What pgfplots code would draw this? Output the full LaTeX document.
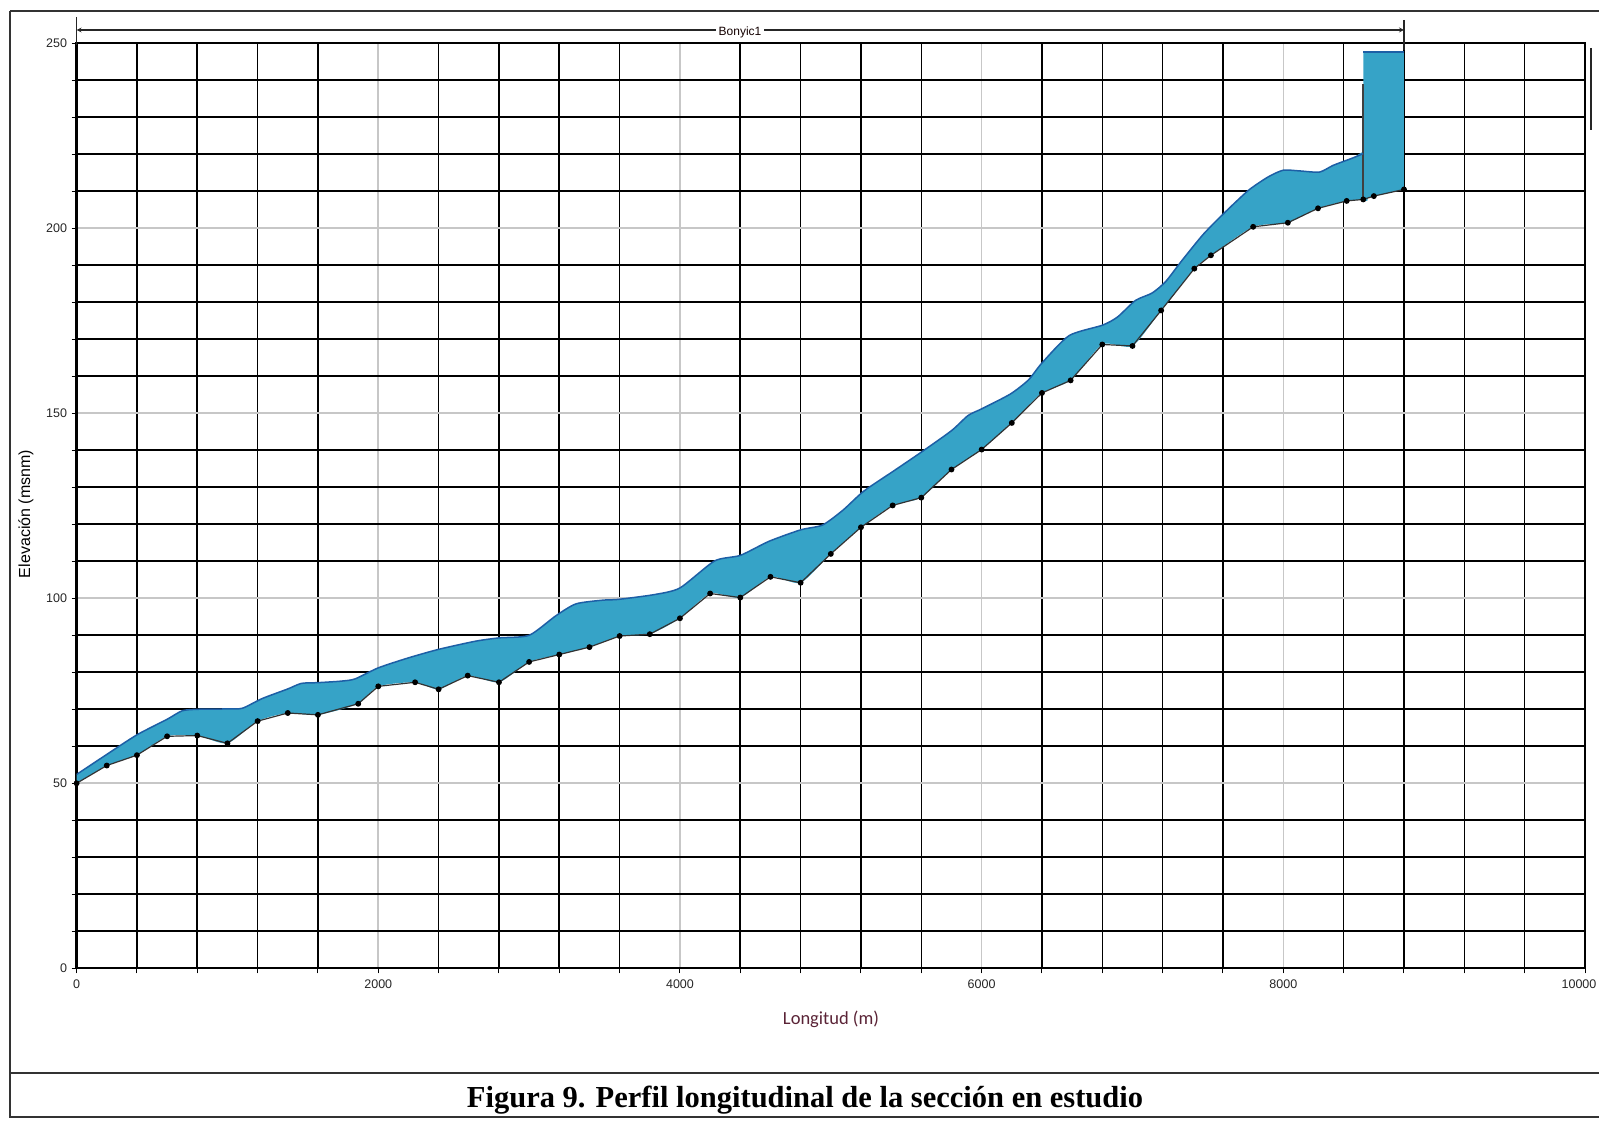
\documentclass[border=0pt]{standalone}
\usepackage{pgfplots}
\pgfplotsset{compat=1.18}
\usepackage{fontspec}
\setmainfont{Liberation Sans}
\newfontfamily\capfont{Liberation Serif}
\newfontfamily\labfont{Carlito}
\definecolor{waterblue}{HTML}{36A3C7}
\definecolor{surfline}{HTML}{1D5FA6}
\definecolor{labred}{HTML}{5A2336}
\begin{document}
\begin{tikzpicture}[x=1pt,y=1pt]
\useasboundingbox (0,0) rectangle (1599,1120);
% outer frame
\draw[line width=1.5pt, black!80] (10,1109) -- (1599,1109);
\draw[line width=1.5pt, black!80] (10,1109) -- (10,3) -- (1599,3);
\draw[line width=1.5pt, black!80] (10,47) -- (1599,47);
\draw[line width=1.8pt, black!85] (1591,1072) -- (1591,990);
\begin{axis}[
  at={(76.6pt,151.7pt)}, anchor=south west,
  scale only axis, width=1508.4pt, height=925pt,
  xmin=0, xmax=10000, ymin=0, ymax=250,
  xtick={0,2000,...,10000},
  xticklabels={0,2000,4000,6000,8000,\hspace*{-12pt}10000},
  ytick={0,50,...,250},
  scaled x ticks=false,
  minor xtick={400,800,1200,1600,2400,2800,3200,3600,4400,4800,5200,5600,6400,6800,7200,7600,8400,8800,9200,9600},
  minor ytick={10,20,30,40,60,70,80,90,110,120,130,140,160,170,180,190,210,220,230,240},
  grid=both,
  major grid style={black!22, line width=1.6pt},
  minor grid style={black, line width=1.6pt},
  axis line style={black, line width=2.4pt},
  tick align=outside,
  xtick pos=bottom, ytick pos=left,
  major tick length=5pt, minor tick length=5pt,
  tick style={black, line width=1pt},
  /pgf/number format/assume math mode=true,
  /pgf/number format/set thousands separator={},
  ticklabel style={font=\fontsize{12.5}{12.5}\selectfont, text=black!85},
  xticklabel style={yshift=-3pt},
  yticklabel style={xshift=-1pt},
]
% water area: smooth surface then bed back to start
\addplot[fill=waterblue, draw=none, smooth, tension=0.4] coordinates {
(0,52.4) (200,57.8) (400,63.1) (600,67.3) (700,69.6) (800,70) (1000,70.1) (1100,70.3) (1230,72.9) (1400,75.5) (1490,77) (1600,77.2) (1750,77.6) (1845,78.2) (2000,81.2) (2200,83.9) (2400,86.2) (2644,88.4) (2800,89.3) (3000,90) (3178,95.3) (3311,98.5) (3489,99.5) (3590,99.7) (3830,101) (4000,102.8) (4230,110.1) (4400,111.6) (4590,115.4) (4800,118.5) (4945,119.8) (5080,123.8) (5220,129) (5420,134.5) (5600,139.5) (5800,145.3) (5910,149.4) (6000,151.2) (6190,155.2) (6310,159) (6400,163.6) (6580,171) (6800,173.8) (6900,176) (7020,180.5) (7130,182.5) (7220,185.6) (7330,191.4) (7470,198.4) (7610,204.2) (7770,210.3) (7900,213.9) (8000,215.7) (8110,215.5) (8240,215.2) (8330,217) (8460,219) (8560,220.6)
(8560,208) (8530,207.8) (8420,207.4) (8230,205.4) (8030,201.5) (7800,200.4) (7520,192.7) (7410,189.1) (7190,177.8) (7000,168.2) (6800,168.6) (6590,158.9) (6400,155.5) (6200,147.4) (6000,140.2) (5800,134.8) (5600,127.2) (5410,125.1) (5200,119.2) (5000,112) (4800,104.2) (4600,105.8) (4400,100.2) (4200,101.3) (4000,94.6) (3800,90.3) (3600,89.8) (3400,86.8) (3200,84.8) (3000,82.8) (2800,77.3) (2593,79.1) (2400,75.4) (2244,77.3) (2000,76.2) (1867,71.5) (1600,68.5) (1400,69.0) (1200,66.8) (1000,60.8) (800,62.9) (600,62.7) (400,57.6) (200,54.8) (0,50)
} -- cycle;
% block at downstream end
\addplot[fill=waterblue, draw=none] coordinates {(8530,207.8) (8530,247.7) (8800,247.7) (8800,210.5) (8600,208.7)} -- cycle;
\addplot[surfline, line width=1.5pt] coordinates {(8530,247.7) (8800,247.7)};
% structure line
\addplot[black!75, line width=2pt] coordinates {(8530,207.8) (8530,239)};
% water surface line
\addplot[surfline, line width=1.5pt, smooth, tension=0.4] coordinates {
(0,52.4) (200,57.8) (400,63.1) (600,67.3) (700,69.6) (800,70) (1000,70.1) (1100,70.3) (1230,72.9) (1400,75.5) (1490,77) (1600,77.2) (1750,77.6) (1845,78.2) (2000,81.2) (2200,83.9) (2400,86.2) (2644,88.4) (2800,89.3) (3000,90) (3178,95.3) (3311,98.5) (3489,99.5) (3590,99.7) (3830,101) (4000,102.8) (4230,110.1) (4400,111.6) (4590,115.4) (4800,118.5) (4945,119.8) (5080,123.8) (5220,129) (5420,134.5) (5600,139.5) (5800,145.3) (5910,149.4) (6000,151.2) (6190,155.2) (6310,159) (6400,163.6) (6580,171) (6800,173.8) (6900,176) (7020,180.5) (7130,182.5) (7220,185.6) (7330,191.4) (7470,198.4) (7610,204.2) (7770,210.3) (7900,213.9) (8000,215.7) (8110,215.5) (8240,215.2) (8330,217) (8460,219) (8530,220.2)
};
% bed profile with points
\addplot[black!80, line width=1.2pt, mark=*, mark size=2.3pt, mark options={fill=black, draw=black}] coordinates {
(0,50) (200,54.8) (400,57.6) (600,62.7) (800,62.9) (1000,60.8) (1200,66.8) (1400,69.0) (1600,68.5) (1867,71.5) (2000,76.2) (2244,77.3) (2400,75.4) (2593,79.1) (2800,77.3) (3000,82.8) (3200,84.8) (3400,86.8) (3600,89.8) (3800,90.3) (4000,94.6) (4200,101.3) (4400,100.2) (4600,105.8) (4800,104.2) (5000,112) (5200,119.2) (5410,125.1) (5600,127.2) (5800,134.8) (6000,140.2) (6200,147.4) (6400,155.5) (6590,158.9) (6800,168.6) (7000,168.2) (7190,177.8) (7410,189.1) (7520,192.7) (7800,200.4) (8030,201.5) (8230,205.4) (8420,207.4) (8530,207.8) (8600,208.7) (8800,210.5)
};
\end{axis}
% reach dimension line
\draw[black!85, line width=1.2pt] (76.6,1103) -- (76.6,1075);
\draw[black!85, line width=1.2pt] (1404,1100) -- (1404,1070);
\draw[black!85, line width=1.2pt, <->, >=stealth] (76.6,1090) -- (1404,1090);
\node[fill=white, inner sep=3pt, text=black!80!red!40!black, font=\fontsize{12}{12}\selectfont] at (740,1088) {Bonyic1};
% axis labels
\node[font=\labfont\fontsize{18.5}{18.5}\selectfont, text=labred] at (831,101) {Longitud (m)};
\node[rotate=90, font=\fontsize{16}{16}\selectfont] at (26,606) {Elevación (msnm)};
% caption
\node[font=\capfont\bfseries\fontsize{30.5}{30.5}\selectfont] at (805,20) {Figura 9. Perfil longitudinal de la sección en estudio};
\end{tikzpicture}
\end{document}
